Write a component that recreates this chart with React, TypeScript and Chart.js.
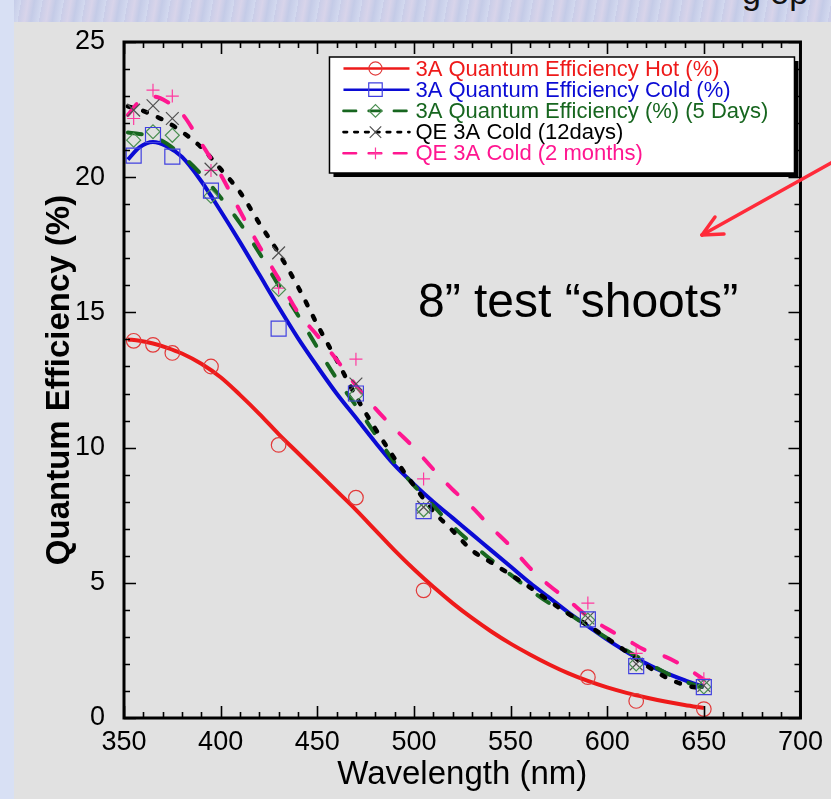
import React, { useEffect, useRef } from "react";
import { Chart, registerables } from "chart.js";

Chart.register(...registerables);

// ---------- data ----------
const seriesLabels = [
  "3A Quantum Efficiency Hot (%)",
  "3A Quantum Efficiency Cold (%)",
  "3A Quantum Efficiency (%) (5 Days)",
  "QE 3A Cold (12days)",
  "QE 3A Cold (2 months)",
];

const wavelengths = [355, 365, 375, 395, 430, 470, 505, 590, 615, 650];
const hotQE = [13.95, 13.8, 13.5, 13.0, 10.1, 8.15, 4.72, 1.51, 0.63, 0.33];
const coldQE = [20.8, 21.56, 20.76, 19.5, 14.4, 12.0, 7.65, 3.65, 1.92, 1.14];
const days5QE = [21.37, 21.68, 21.55, 19.3, 15.85, 11.95, 7.7, 3.62, 2.0, 1.15];
const days12QE = [22.48, 22.64, 22.17, 20.3, 17.2, 12.35, 7.8, 3.7, 2.0, 1.2];
const months2QE = [22.17, 23.22, 23.0, 20.25, 15.9, 13.27, 8.84, 4.25, 2.39, 1.45];

const fitWavelengths = [352, 358, 365, 372, 380, 390, 400, 410, 420, 430, 440, 450, 460, 470, 480, 490, 500, 510, 520, 530, 540, 550, 560, 570, 580, 590, 600, 610, 620, 630, 640, 650];
const hotFit = [14.0, 13.95, 13.85, 13.7, 13.48, 13.1, 12.6, 11.95, 11.25, 10.5, 9.8, 9.1, 8.4, 7.7, 6.95, 6.2, 5.5, 4.85, 4.25, 3.7, 3.2, 2.75, 2.35, 1.98, 1.65, 1.37, 1.13, 0.93, 0.76, 0.61, 0.48, 0.37];
const coldFit = [20.65, 21.1, 21.3, 21.15, 20.75, 19.85, 18.75, 17.6, 16.4, 15.2, 14.05, 13.0, 12.0, 11.1, 10.2, 9.35, 8.65, 8.0, 7.4, 6.8, 6.2, 5.6, 5.0, 4.45, 3.9, 3.4, 2.9, 2.45, 2.02, 1.68, 1.4, 1.15];
const days5Fit = [21.65, 21.6, 21.5, 21.25, 20.8, 20.1, 19.25, 18.3, 17.2, 16.0, 14.9, 13.7, 12.55, 11.55, 10.5, 9.45, 8.6, 7.85, 7.1, 6.45, 5.85, 5.3, 4.75, 4.25, 3.85, 3.4, 2.95, 2.5, 2.08, 1.68, 1.35, 1.12];
const days12Fit = [22.62, 22.5, 22.3, 22.05, 21.68, 21.1, 20.3, 19.45, 18.3, 17.2, 15.95, 14.55, 13.24, 11.9, 10.7, 9.6, 8.6, 7.65, 6.93, 6.2, 5.75, 5.3, 4.83, 4.33, 3.85, 3.43, 2.95, 2.45, 1.95, 1.52, 1.22, 1.08];
const months2Fit = [22.3, 22.8, 22.98, 22.8, 22.35, 21.25, 20.1, 18.75, 17.45, 16.25, 15.0, 14.15, 13.25, 12.3, 11.45, 10.7, 10.0, 9.2, 8.45, 7.8, 7.05, 6.35, 5.55, 4.9, 4.35, 3.75, 3.3, 2.9, 2.5, 2.27, 1.9, 1.42];

const xTickValues = [350, 400, 450, 500, 550, 600, 650, 700];
const yTickValues = [0, 5, 10, 15, 20, 25];

const xTitle = "Wavelength (nm)";
const yTitle = "Quantum Efficiency (%)";
const annotationText = "8\u201D test \u201Cshoots\u201D";

// ---------- styles ----------
const FONT = '"Liberation Sans", Arial, Helvetica, sans-serif';

type SeriesStyle = {
  color: string;
  markerColor: string;
  dash: number[];
  width: number;
  marker: "circle" | "rect" | "rectRot" | "crossRot" | "cross";
  radius: number;
};

const styles: SeriesStyle[] = [
  { color: "#ee1a1a", markerColor: "#e23a3a", dash: [], width: 4, marker: "circle", radius: 7.3 },
  { color: "#0b0bd4", markerColor: "#4040e0", dash: [], width: 4, marker: "rect", radius: 10.6 },
  { color: "#17661f", markerColor: "#4b8f52", dash: [14, 21], width: 4, marker: "rectRot", radius: 7 },
  { color: "#000000", markerColor: "#505050", dash: [4, 12], width: 4.5, marker: "crossRot", radius: 9 },
  { color: "#ff1690", markerColor: "#ff3aa0", dash: [14, 21], width: 4, marker: "cross", radius: 6.5 },
];

const markerSeries = [hotQE, coldQE, days5QE, days12QE, months2QE];
const fitSeries = [hotFit, coldFit, days5Fit, days12Fit, months2Fit];

function drawMarker(ctx: CanvasRenderingContext2D, kind: string, x: number, y: number, r: number, color: string) {
  ctx.save();
  ctx.setLineDash([]);
  ctx.strokeStyle = color;
  ctx.lineWidth = 1.2;
  ctx.beginPath();
  switch (kind) {
    case "circle":
      ctx.arc(x, y, r, 0, Math.PI * 2);
      break;
    case "rect": {
      const s = Math.SQRT1_2 * r;
      ctx.rect(x - s, y - s, 2 * s, 2 * s);
      break;
    }
    case "rectRot":
      ctx.moveTo(x - r, y);
      ctx.lineTo(x, y - r);
      ctx.lineTo(x + r, y);
      ctx.lineTo(x, y + r);
      ctx.closePath();
      break;
    case "crossRot": {
      const o = Math.SQRT1_2 * r;
      ctx.moveTo(x - o, y - o);
      ctx.lineTo(x + o, y + o);
      ctx.moveTo(x + o, y - o);
      ctx.lineTo(x - o, y + o);
      break;
    }
    case "cross":
      ctx.moveTo(x - r, y);
      ctx.lineTo(x + r, y);
      ctx.moveTo(x, y - r);
      ctx.lineTo(x, y + r);
      break;
  }
  ctx.stroke();
  ctx.restore();
}

const frameTicksPlugin = {
  id: "frameTicks",
  afterDatasetsDraw(chart: any) {
    const { ctx, chartArea } = chart;
    const { left, right, top, bottom } = chartArea;
    const xs = chart.scales.x;
    const ys = chart.scales.y;
    ctx.save();
    ctx.strokeStyle = "#000";
    ctx.lineWidth = 1.6;
    ctx.setLineDash([]);
    ctx.beginPath();
    for (let v = xs.min; v <= xs.max + 0.001; v += 10) {
      const px = Math.round(xs.getPixelForValue(v)) + 0.5;
      const len = Math.abs(v % 50) < 0.001 ? 12 : 6;
      ctx.moveTo(px, bottom);
      ctx.lineTo(px, bottom - len);
      ctx.moveTo(px, top);
      ctx.lineTo(px, top + len);
    }
    for (let v = ys.min; v <= ys.max + 0.001; v += 1) {
      const py = Math.round(ys.getPixelForValue(v)) + 0.5;
      const len = Math.abs(v % 5) < 0.001 ? 12 : 6;
      ctx.moveTo(left, py);
      ctx.lineTo(left + len, py);
      ctx.moveTo(right, py);
      ctx.lineTo(right - len, py);
    }
    ctx.stroke();
    ctx.lineWidth = 3;
    ctx.strokeRect(left, top, right - left, bottom - top);
    ctx.restore();
  },
};

const legendPlugin = {
  id: "customLegend",
  afterDraw(chart: any) {
    const { ctx, chartArea } = chart;
    const boxL = chartArea.right - 471;
    const boxT = chartArea.top + 15;
    const boxW = 465;
    const boxH = 116;
    ctx.save();
    ctx.fillStyle = "#000";
    ctx.fillRect(boxL + 4, boxT + 4, boxW, boxH);
    ctx.fillStyle = "#fff";
    ctx.fillRect(boxL, boxT, boxW, boxH);
    ctx.strokeStyle = "#000";
    ctx.lineWidth = 1.5;
    ctx.strokeRect(boxL, boxT, boxW, boxH);
    ctx.font = `22px ${FONT}`;
    ctx.textBaseline = "middle";
    ctx.textAlign = "left";
    seriesLabels.forEach((label, i) => {
      const st = styles[i];
      const y = boxT + 11.5 + i * 21.2;
      ctx.save();
      ctx.strokeStyle = st.color;
      ctx.lineWidth = 2.6;
      ctx.lineCap = st.dash.length ? "round" : "butt";
      ctx.setLineDash(st.dash.length ? [st.dash[0] * 0.9, st.dash[1] * 0.6] : []);
      ctx.beginPath();
      ctx.moveTo(boxL + 14, y);
      ctx.lineTo(boxL + 80, y);
      ctx.stroke();
      ctx.restore();
      drawMarker(ctx, st.marker, boxL + 46, y, st.radius * 0.9, st.markerColor);
      ctx.fillStyle = st.color;
      ctx.fillText(label, boxL + 86, y + 1);
    });
    ctx.restore();
  },
};

export default function App() {
  const canvasRef = useRef<HTMLCanvasElement>(null);

  useEffect(() => {
    const canvas = canvasRef.current;
    if (!canvas) return;

    const fitDatasets = fitSeries.map((vals, i) => ({
      type: "line" as const,
      label: seriesLabels[i] + " (fit)",
      data: fitWavelengths.map((x, j) => ({ x, y: vals[j] })),
      borderColor: styles[i].color,
      borderWidth: styles[i].width,
      borderDash: styles[i].dash,
      borderCapStyle: (styles[i].dash.length ? "round" : "butt") as CanvasLineCap,
      cubicInterpolationMode: "monotone" as const,
      pointRadius: 0,
      fill: false,
      showLine: true,
      order: 5 - i + 10,
    }));

    const markerDatasets = markerSeries.map((vals, i) => ({
      type: "line" as const,
      label: seriesLabels[i],
      data: wavelengths.map((x, j) => ({ x, y: vals[j] })),
      showLine: false,
      pointStyle: styles[i].marker,
      pointRadius: styles[i].radius,
      pointBorderColor: styles[i].markerColor,
      pointBackgroundColor: "rgba(0,0,0,0)",
      pointBorderWidth: 1.2,
      borderColor: styles[i].markerColor,
      order: 1,
    }));

    const chart = new Chart(canvas, {
      type: "line",
      data: { datasets: [...fitDatasets, ...markerDatasets] as any },
      plugins: [frameTicksPlugin, legendPlugin],
      options: {
        responsive: false,
        animation: false,
        devicePixelRatio: 1,
        layout: { padding: { left: 0, right: 28, top: 42, bottom: 0 } },
        plugins: {
          legend: { display: false },
          tooltip: { enabled: false },
        },
        scales: {
          x: {
            type: "linear",
            min: xTickValues[0],
            max: xTickValues[xTickValues.length - 1],
            afterFit: (s: any) => {
              s.height = 81;
            },
            afterBuildTicks: (s: any) => {
              s.ticks = xTickValues.map((v) => ({ value: v }));
            },
            grid: { display: false, drawTicks: false },
            border: { display: false },
            ticks: {
              autoSkip: false,
              maxRotation: 0,
              padding: 8,
              color: "#000",
              font: { family: FONT, size: 27 },
            },
            title: {
              display: true,
              text: xTitle,
              color: "#000",
              font: { family: FONT, size: 33 },
              padding: { top: 0, bottom: 4 },
            },
          },
          y: {
            type: "linear",
            min: yTickValues[0],
            max: yTickValues[yTickValues.length - 1],
            afterFit: (s: any) => {
              s.width = 124;
            },
            afterBuildTicks: (s: any) => {
              s.ticks = yTickValues.map((v) => ({ value: v }));
            },
            grid: { display: false, drawTicks: false },
            border: { display: false },
            ticks: {
              autoSkip: false,
              padding: 19,
              color: "#000",
              font: { family: FONT, size: 27 },
            },
            title: {
              display: true,
              text: yTitle,
              color: "#000",
              font: { family: FONT, size: 33, weight: "bold" },
              padding: { top: 40, bottom: 0 },
            },
          },
        },
      } as any,
    });

    return () => chart.destroy();
  }, []);

  return (
    <div
      style={{
        position: "fixed",
        left: 0,
        top: 0,
        width: 831,
        height: 799,
        overflow: "hidden",
        background: "#e1e1e1",
      }}
    >
      <div
        style={{
          position: "absolute",
          left: 0,
          top: 0,
          width: 831,
          height: 22,
          background:
            "repeating-linear-gradient(100deg, #c9cde8 0px, #d8d4ea 7px, #c4cbe7 13px, #d3d9ef 21px)",
        }}
      />
      <div
        style={{
          position: "absolute",
          left: 0,
          top: 0,
          width: 14,
          height: 799,
          background: "#d8e0f4",
        }}
      />
      <div
        style={{
          position: "absolute",
          left: 742,
          top: -27,
          fontFamily: FONT,
          fontSize: 34,
          color: "#111",
          whiteSpace: "nowrap",
        }}
      >
        g op
      </div>
      <canvas
        ref={canvasRef}
        width={831}
        height={799}
        style={{ position: "absolute", left: 0, top: 0, width: 831, height: 799 }}
      />
      <div
        style={{
          position: "absolute",
          left: 418,
          top: 277,
          fontFamily: FONT,
          fontSize: 48,
          lineHeight: "48px",
          color: "#000",
          whiteSpace: "nowrap",
        }}
      >
        {annotationText}
      </div>
      <svg
        width={831}
        height={799}
        style={{ position: "absolute", left: 0, top: 0, pointerEvents: "none" }}
      >
        <g stroke="#ff2b3a" strokeWidth={3.5} strokeLinecap="round" fill="none">
          <line x1={833} y1={162} x2={702} y2={235} />
          <line x1={702} y1={235} x2={715} y2={217} />
          <line x1={702} y1={235} x2={724} y2={234} />
        </g>
      </svg>
    </div>
  );
}
